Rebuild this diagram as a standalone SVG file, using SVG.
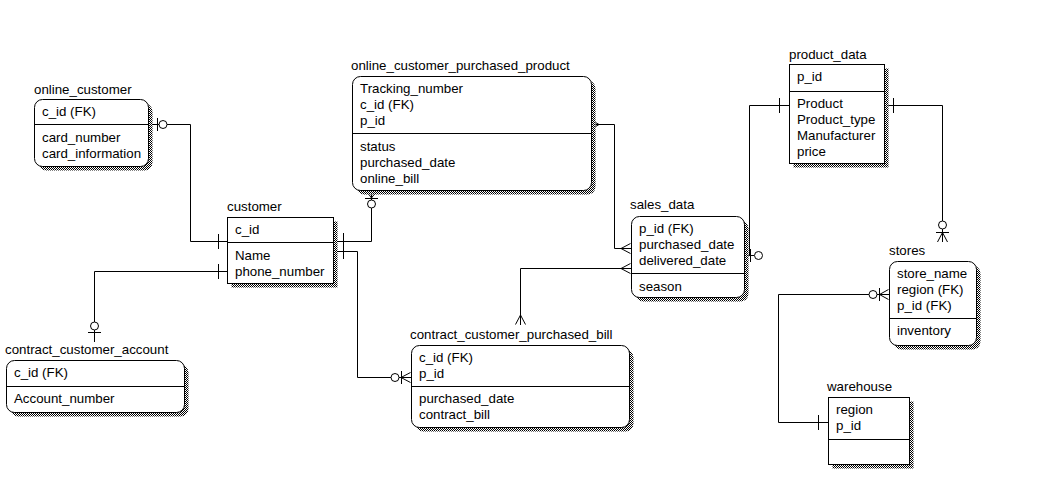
<svg xmlns="http://www.w3.org/2000/svg" width="1055" height="480" viewBox="0 0 1055 480">
<defs>
<pattern id="hatch" width="2" height="2" patternUnits="userSpaceOnUse"><rect width="2" height="2" fill="#fff"/><rect width="1" height="1" fill="#000"/><rect x="1" y="1" width="1" height="1" fill="#000"/></pattern>
<style>
text{font-family:"Liberation Sans",Arial,sans-serif;font-size:13.3px;fill:#000}
.box{fill:#fff;stroke:#000;stroke-width:1}
.sh{fill:url(#hatch);stroke:none}
.div{stroke:#000;stroke-width:1;fill:none}
.ln{stroke:#000;stroke-width:1;fill:none}
.ci{stroke:#000;stroke-width:1;fill:#fff}
</style>
</defs>
<rect width="1055" height="480" fill="#fff"/>

<g id="connectors">
<!-- online_customer - customer -->
<path class="ln" d="M148.5,124.5 H190.5 V241.5 H227"/>
<path class="ln" d="M157.5,118 V131 M218.5,234 V249"/>
<circle class="ci" cx="163" cy="124.5" r="4"/>
<!-- contract_customer_account - customer -->
<path class="ln" d="M227,271.5 H94.5 V342"/>
<path class="ln" d="M218.5,264 V279 M88,332.5 H101"/>
<circle class="ci" cx="94.5" cy="326" r="4"/>
<!-- customer - online_customer_purchased_product -->
<path class="ln" d="M333,241.5 H371.5 V190"/>
<path class="ln" d="M343.5,233 V259 M365,198.5 H378 M371.5,198 L366,190.5 M371.5,198 L377,190.5"/>
<circle class="ci" cx="371.5" cy="204" r="4"/>
<!-- customer - contract_customer_purchased_bill -->
<path class="ln" d="M333,251.5 H357.5 V377.5 H411"/>
<path class="ln" d="M401.5,371 V384 M401,377.5 L410.5,372.5 M401,377.5 L410.5,382.5"/>
<circle class="ci" cx="395" cy="377.5" r="4"/>
<!-- online_customer_purchased_product - sales_data -->
<path class="ln" d="M591,124.5 H614.5 V248.5 H631"/>
<path class="ln" d="M599,124.5 L591.5,120 M599,124.5 L591.5,129 M621,248.5 L630.5,243.5 M621,248.5 L630.5,253.5"/>
<!-- sales_data - contract_customer_purchased_bill -->
<path class="ln" d="M631,268.5 H520.5 V325"/>
<path class="ln" d="M621,268.5 L630.5,263.5 M621,268.5 L630.5,273.5 M520.5,315 L515.5,324.5 M520.5,315 L525.5,324.5"/>
<!-- product_data - sales_data -->
<path class="ln" d="M789,105.5 H749.5 V255.5 M744,255.5 H754"/>
<path class="ln" d="M779.5,98 V113 M750.5,249 V262"/>
<circle class="ci" cx="758.5" cy="255.5" r="4"/>
<!-- product_data - stores -->
<path class="ln" d="M884,105.5 H942.5 V242"/>
<path class="ln" d="M893.5,98 V113 M936,232.5 H949 M942.5,232.5 L937.5,242 M942.5,232.5 L947.5,242"/>
<circle class="ci" cx="942.5" cy="225" r="4"/>
<!-- stores - warehouse -->
<path class="ln" d="M889,294.5 H778.5 V422.5 H828"/>
<path class="ln" d="M879.5,288 V301 M879.5,294.5 L888.5,289.5 M879.5,294.5 L888.5,299.5 M818.5,415 V430"/>
<circle class="ci" cx="873" cy="294.5" r="4"/>
</g>

<g id="online_customer">
<text x="34" y="94">online_customer</text>
<rect class="sh" x="38.5" y="103.5" width="114" height="67" rx="8"/>
<rect class="box" x="34.5" y="99.5" width="114" height="67" rx="8"/>
<path class="div" d="M34.5,124.5 H148.5"/>
<text x="42" y="116">c_id (FK)</text>
<text x="42" y="142">card_number</text>
<text x="42" y="158">card_information</text>
</g>

<g id="customer">
<text x="227" y="211">customer</text>
<rect class="sh" x="231.5" y="221.5" width="106" height="66"/>
<rect class="box" x="227.5" y="217.5" width="106" height="66"/>
<path class="div" d="M227.5,242.5 H333.5"/>
<text x="235" y="234">c_id</text>
<text x="235" y="260">Name</text>
<text x="235" y="276">phone_number</text>
</g>

<g id="online_customer_purchased_product">
<text x="351" y="70">online_customer_purchased_product</text>
<rect class="sh" x="356.5" y="80.5" width="239" height="114" rx="8"/>
<rect class="box" x="352.5" y="76.5" width="239" height="114" rx="8"/>
<path class="div" d="M352.5,133.5 H591.5"/>
<text x="360" y="93">Tracking_number</text>
<text x="360" y="109">c_id (FK)</text>
<text x="360" y="125">p_id</text>
<text x="360" y="151">status</text>
<text x="360" y="167">purchased_date</text>
<text x="360" y="183">online_bill</text>
</g>

<g id="sales_data">
<text x="630" y="209">sales_data</text>
<rect class="sh" x="635.5" y="220.5" width="113" height="81" rx="8"/>
<rect class="box" x="631.5" y="216.5" width="113" height="81" rx="8"/>
<path class="div" d="M631.5,273.5 H744.5"/>
<text x="639" y="233">p_id (FK)</text>
<text x="639" y="249">purchased_date</text>
<text x="639" y="265">delivered_date</text>
<text x="639" y="291">season</text>
</g>

<g id="product_data">
<text x="789" y="59">product_data</text>
<rect class="sh" x="793.5" y="68.5" width="95" height="99"/>
<rect class="box" x="789.5" y="64.5" width="95" height="99"/>
<path class="div" d="M789.5,91.5 H884.5"/>
<text x="797" y="81">p_id</text>
<text x="797" y="108">Product</text>
<text x="797" y="124">Product_type</text>
<text x="797" y="140">Manufacturer</text>
<text x="797" y="156">price</text>
</g>

<g id="stores">
<text x="889" y="255">stores</text>
<rect class="sh" x="893.5" y="265.5" width="87" height="84" rx="8"/>
<rect class="box" x="889.5" y="261.5" width="87" height="84" rx="8"/>
<path class="div" d="M889.5,318.5 H976.5"/>
<text x="897" y="278">store_name</text>
<text x="897" y="294">region (FK)</text>
<text x="897" y="310">p_id (FK)</text>
<text x="897" y="335">inventory</text>
</g>

<g id="warehouse">
<text x="827" y="391">warehouse</text>
<rect class="sh" x="832.5" y="401.5" width="81" height="67"/>
<rect class="box" x="828.5" y="397.5" width="81" height="67"/>
<path class="div" d="M828.5,439.5 H909.5"/>
<text x="836" y="414">region</text>
<text x="836" y="430">p_id</text>
</g>

<g id="contract_customer_account">
<text x="5" y="354">contract_customer_account</text>
<rect class="sh" x="10.5" y="364.5" width="178" height="52" rx="8"/>
<rect class="box" x="6.5" y="360.5" width="178" height="52" rx="8"/>
<path class="div" d="M6.5,386.5 H184.5"/>
<text x="14" y="377">c_id (FK)</text>
<text x="14" y="403">Account_number</text>
</g>

<g id="contract_customer_purchased_bill">
<text x="410" y="339">contract_customer_purchased_bill</text>
<rect class="sh" x="415.5" y="349.5" width="218" height="82" rx="8"/>
<rect class="box" x="411.5" y="345.5" width="218" height="82" rx="8"/>
<path class="div" d="M411.5,386.5 H629.5"/>
<text x="419" y="362">c_id (FK)</text>
<text x="419" y="378">p_id</text>
<text x="419" y="403">purchased_date</text>
<text x="419" y="419">contract_bill</text>
</g>
</svg>
